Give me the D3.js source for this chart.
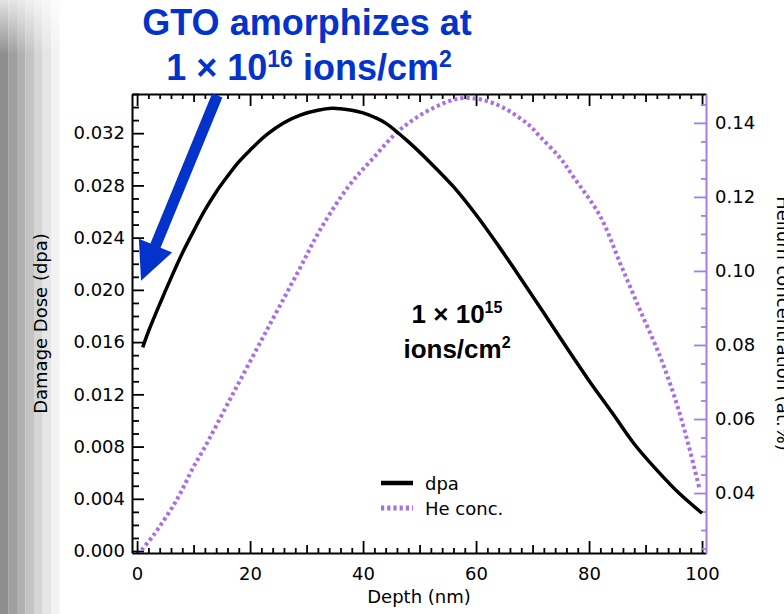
<!DOCTYPE html>
<html>
<head>
<meta charset="utf-8">
<script src="https://cdn.jsdelivr.net/npm/d3@7"></script>
<style>
  html, body { margin: 0; padding: 0; background: #fff; }
  svg { display: block; }
</style>
</head>
<body>
<svg id="chart" width="784" height="614"></svg>
<script>
// ---------------- data ----------------
const dpaDepth = [1.0, 2.0, 4.0, 6.0, 8.0, 10.0, 12.0, 14.0, 16.0, 18.0, 20.0, 23.0, 26.0, 29.0, 32.0, 34.5, 36.0, 38.0, 40.0, 42.0, 44.0, 48.0, 52.0, 56.0, 60.0, 64.0, 68.0, 72.0, 76.0, 80.0, 84.0, 88.0, 92.0, 96.0, 100.0];
const dpaValues = [0.0156, 0.0168, 0.0189, 0.0209, 0.0228, 0.0245, 0.0261, 0.0275, 0.0287, 0.0298, 0.0307, 0.0319, 0.0328, 0.0334, 0.03375, 0.0339, 0.03387, 0.03376, 0.03355, 0.03322, 0.03277, 0.03135, 0.0297, 0.0279, 0.02575, 0.02335, 0.02082, 0.01823, 0.0156, 0.01305, 0.01065, 0.0082, 0.0062, 0.0044, 0.0029];

const heDepth = [0.8, 3.0, 7.0, 10.0, 11.7, 17.0, 23.0, 28.5, 32.4, 37.4, 41.8, 46.5, 52.4, 57.7, 63.1, 69.0, 71.3, 74.9, 77.2, 82.0, 85.5, 89.0, 92.6, 95.5, 97.6, 99.6];
const heValues = [0.0246, 0.0288, 0.0381, 0.0471, 0.0516, 0.0669, 0.0841, 0.0998, 0.1111, 0.1228, 0.1305, 0.1381, 0.1440, 0.1467, 0.1453, 0.1399, 0.1363, 0.1305, 0.1255, 0.1147, 0.1021, 0.0895, 0.0768, 0.0642, 0.0530, 0.0408];

const depthTicks = [0, 20, 40, 60, 80, 100];
const dpaTicks = [0, 0.004, 0.008, 0.012, 0.016, 0.020, 0.024, 0.028, 0.032];
const heTicks = [0.04, 0.06, 0.08, 0.10, 0.12, 0.14];

const seriesNames = ["dpa", "He conc."];
const xLabel = "Depth (nm)";
const yLeftLabel = "Damage Dose (dpa)";
const yRightLabel = "Helium concentration (at.%)";

// ---------------- setup ----------------
const svg = d3.select("#chart");
const W = 784, H = 614;
const plot = { left: 132, right: 706, top: 94, bottom: 553 };
const BLUE = "#0433cc";
const PURPLE = "#a66ee8";
const PURPLE_AXIS = "#a97ceb";
const FONT = "'DejaVu Sans', Verdana, sans-serif";
const BOLD = "'Liberation Sans', Arial, Helvetica, sans-serif";

// left gray gradient band (slide background)
const bandCols = ["#8e8e8e", "#9f9f9f", "#b1b1b1", "#c3c3c3", "#d5d5d5", "#e5e5e5", "#f3f3f3"];
svg.append("g").selectAll("rect").data(bandCols).join("rect")
  .attr("x", (d, i) => i * 8.5).attr("y", 0).attr("width", 8.6).attr("height", H)
  .attr("fill", d => d);
const defs = svg.append("defs");
const tg = defs.append("linearGradient").attr("id", "topfade").attr("x1", 0).attr("y1", 0).attr("x2", 0).attr("y2", 1);
tg.append("stop").attr("offset", 0).attr("stop-color", "#fff").attr("stop-opacity", 0.75);
tg.append("stop").attr("offset", 1).attr("stop-color", "#fff").attr("stop-opacity", 0);
svg.append("rect").attr("x", 0).attr("y", 0).attr("width", 60).attr("height", 55).attr("fill", "url(#topfade)");

// scales
const x = d3.scaleLinear().domain([-0.9, 100.7]).range([plot.left, plot.right]);
const yL = d3.scaleLinear().domain([-0.00015, 0.0350]).range([plot.bottom, plot.top]);
const yR = d3.scaleLinear().domain([0.0238, 0.1478]).range([plot.bottom, plot.top]);

function styleAxis(g, color) {
  g.select(".domain").attr("stroke", color).attr("stroke-width", 2);
  g.selectAll(".tick line").attr("stroke", color).attr("stroke-width", 1.8);
  g.selectAll(".tick text").attr("fill", "#000").style("font-family", FONT).style("font-size", "18px");
}

const xMinor = d3.range(0, 101, 2).filter(d => d % 10 !== 0);
const xMid = d3.range(10, 100, 20);

// bottom axis
const gB = svg.append("g").attr("transform", `translate(0,${plot.bottom})`);
gB.call(d3.axisBottom(x).tickValues(depthTicks).tickSizeInner(-12).tickSizeOuter(0).tickPadding(14).tickFormat(d3.format("d")));
styleAxis(gB, "#000");
const gBm = svg.append("g").attr("transform", `translate(0,${plot.bottom})`);
gBm.call(d3.axisBottom(x).tickValues(xMinor).tickSizeInner(-5).tickSizeOuter(0).tickFormat(""));
gBm.select(".domain").remove(); styleAxis(gBm, "#000");
const gBmid = svg.append("g").attr("transform", `translate(0,${plot.bottom})`);
gBmid.call(d3.axisBottom(x).tickValues(xMid).tickSizeInner(-8).tickSizeOuter(0).tickFormat(""));
gBmid.select(".domain").remove(); styleAxis(gBmid, "#000");

// top mirror axis
const gT = svg.append("g").attr("transform", `translate(0,${plot.top})`);
gT.call(d3.axisTop(x).tickValues(depthTicks).tickSizeInner(-12).tickSizeOuter(0).tickFormat(""));
styleAxis(gT, "#000");
const gTm = svg.append("g").attr("transform", `translate(0,${plot.top})`);
gTm.call(d3.axisTop(x).tickValues(xMinor).tickSizeInner(-5).tickSizeOuter(0).tickFormat(""));
gTm.select(".domain").remove(); styleAxis(gTm, "#000");
const gTmid = svg.append("g").attr("transform", `translate(0,${plot.top})`);
gTmid.call(d3.axisTop(x).tickValues(xMid).tickSizeInner(-8).tickSizeOuter(0).tickFormat(""));
gTmid.select(".domain").remove(); styleAxis(gTmid, "#000");

// left axis
const gL = svg.append("g").attr("transform", `translate(${plot.left},0)`);
gL.call(d3.axisLeft(yL).tickValues(dpaTicks).tickSizeInner(-12).tickSizeOuter(0).tickPadding(7).tickFormat(d3.format(".3f")));
styleAxis(gL, "#000");
const leftMinor = d3.range(1, 36).map(d => d / 1000).filter(d => Math.round(d * 1000) % 4 !== 0);
const gLm = svg.append("g").attr("transform", `translate(${plot.left},0)`);
gLm.call(d3.axisLeft(yL).tickValues(leftMinor).tickSizeInner(-7).tickSizeOuter(0).tickFormat(""));
gLm.select(".domain").remove(); styleAxis(gLm, "#000");

// right axis
const gR = svg.append("g").attr("transform", `translate(${plot.right},0)`);
gR.call(d3.axisRight(yR).tickValues(heTicks).tickSizeInner(-12).tickSizeOuter(0).tickPadding(9).tickFormat(d3.format(".2f")));
styleAxis(gR, PURPLE_AXIS);
const rightMinor = d3.range(25, 148, 5).map(d => d / 1000).filter(d => Math.round(d * 1000) % 20 !== 0);
const gRm = svg.append("g").attr("transform", `translate(${plot.right},0)`);
gRm.call(d3.axisRight(yR).tickValues(rightMinor).tickSizeInner(-5).tickSizeOuter(0).tickFormat(""));
gRm.select(".domain").remove(); styleAxis(gRm, PURPLE_AXIS);

// axis titles
svg.append("text").attr("x", (plot.left + plot.right) / 2).attr("y", 603)
  .attr("text-anchor", "middle").style("font-family", FONT).style("font-size", "18px").text(xLabel);
svg.append("text").attr("transform", `translate(47,${(plot.top + plot.bottom) / 2}) rotate(-90)`)
  .attr("text-anchor", "middle").style("font-family", FONT).style("font-size", "18px").text(yLeftLabel);
svg.append("text").attr("transform", `translate(777,${(plot.top + plot.bottom) / 2}) rotate(90)`)
  .attr("text-anchor", "middle").style("font-family", FONT).style("font-size", "18px").text(yRightLabel);

// series
const heLine = d3.line().x((d, i) => x(heDepth[i])).y(d => yR(d)).curve(d3.curveCatmullRom);
svg.append("path").datum(heValues).attr("d", heLine)
  .attr("fill", "none").attr("stroke", PURPLE).attr("stroke-width", 4).attr("stroke-dasharray", "3.2,3");

const dpaLine = d3.line().x((d, i) => x(dpaDepth[i])).y(d => yL(d)).curve(d3.curveCatmullRom);
svg.append("path").datum(dpaValues).attr("d", dpaLine)
  .attr("fill", "none").attr("stroke", "#000").attr("stroke-width", 3.5).attr("stroke-linejoin", "round");

// legend
const leg = svg.append("g");
leg.append("line").attr("x1", 381).attr("x2", 413).attr("y1", 483).attr("y2", 483).attr("stroke", "#000").attr("stroke-width", 4.5);
leg.append("line").attr("x1", 381).attr("x2", 413).attr("y1", 508).attr("y2", 508).attr("stroke", PURPLE).attr("stroke-width", 5).attr("stroke-dasharray", "3.2,3");
leg.append("text").attr("x", 425).attr("y", 490).style("font-family", FONT).style("font-size", "18px").text(seriesNames[0]);
leg.append("text").attr("x", 425).attr("y", 515).style("font-family", FONT).style("font-size", "18px").text(seriesNames[1]);

// annotation inside plot
const ann = svg.append("g").style("font-family", BOLD).style("font-weight", "bold").attr("fill", "#000");
const a1 = ann.append("text").attr("x", 457).attr("y", 323).attr("text-anchor", "middle").style("font-size", "26px");
a1.append("tspan").text("1 \u00d7 10");
a1.append("tspan").attr("dy", -10).style("font-size", "16px").text("15");
const a2 = ann.append("text").attr("x", 457).attr("y", 358).attr("text-anchor", "middle").style("font-size", "26px");
a2.append("tspan").text("ions/cm");
a2.append("tspan").attr("dy", -10).style("font-size", "16px").text("2");

// title annotation (blue)
const ttl = svg.append("g").style("font-family", BOLD).style("font-weight", "bold").attr("fill", BLUE);
ttl.append("text").attr("x", 307).attr("y", 35).attr("text-anchor", "middle").style("font-size", "36px").text("GTO amorphizes at");
const t2 = ttl.append("text").attr("x", 309).attr("y", 80).attr("text-anchor", "middle").style("font-size", "36px");
t2.append("tspan").text("1 \u00d7 10");
t2.append("tspan").attr("dy", -13).style("font-size", "23px").text("16");
t2.append("tspan").attr("dy", 13).text(" ions/cm");
t2.append("tspan").attr("dy", -13).style("font-size", "23px").text("2");

// blue arrow (positioned in data coordinates)
const tail = [x(14.2), yL(0.0349)];
const tip = [x(0.7), yL(0.0207)];
const dx = tip[0] - tail[0], dy = tip[1] - tail[1];
const len = Math.hypot(dx, dy);
const u = [dx / len, dy / len], n = [-u[1], u[0]];
const sw = 5.5, hl = 38, hw = 18;
const base = [tip[0] - u[0] * hl, tip[1] - u[1] * hl];
const pts = [
  [tail[0] + n[0] * sw, tail[1] + n[1] * sw],
  [base[0] + n[0] * sw, base[1] + n[1] * sw],
  [base[0] + n[0] * hw, base[1] + n[1] * hw],
  tip,
  [base[0] - n[0] * hw, base[1] - n[1] * hw],
  [base[0] - n[0] * sw, base[1] - n[1] * sw],
  [tail[0] - n[0] * sw, tail[1] - n[1] * sw]
];
svg.append("polygon").attr("points", pts.map(p => p.join(",")).join(" ")).attr("fill", BLUE);
</script>
</body>
</html>
